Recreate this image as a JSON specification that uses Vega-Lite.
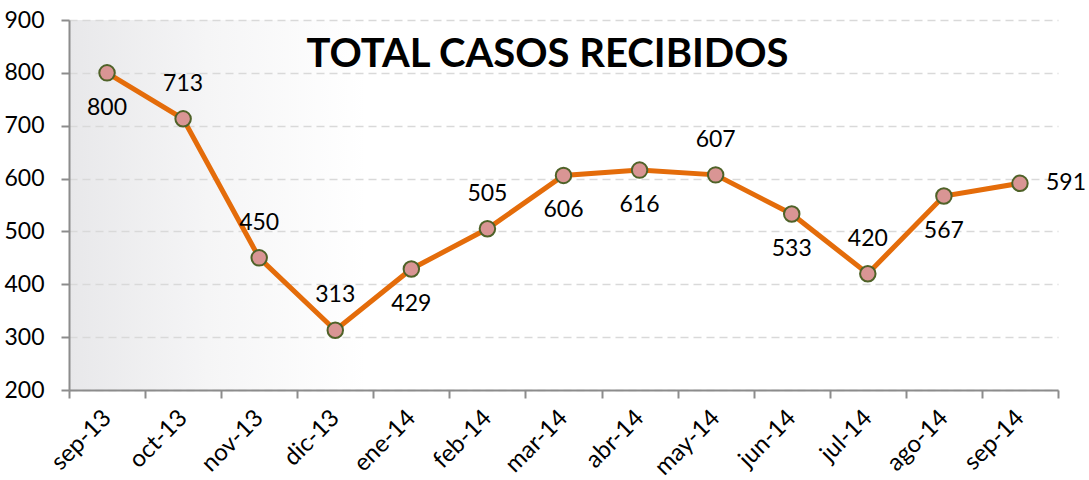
{
  "$schema": "https://vega.github.io/schema/vega-lite/v6.json",
  "width": 989,
  "height": 370,
  "autosize": {"type": "none"},
  "padding": {"left": 69, "top": 20, "right": 31, "bottom": 90},
  "background": "#ffffff",
  "config": {
    "font": "Lato",
    "view": {
      "stroke": null,
      "fill": {
        "gradient": "linear",
        "x1": 0, "y1": 0, "x2": 1, "y2": 0,
        "stops": [
          {"offset": 0, "color": "#e8e8ea"},
          {"offset": 0.14, "color": "#f5f5f6"},
          {"offset": 0.3, "color": "#ffffff"},
          {"offset": 1, "color": "#ffffff"}
        ]
      }
    }
  },
  "datasets": {
    "casos": [
      {"mes": "sep-13", "casos": 800},
      {"mes": "oct-13", "casos": 713},
      {"mes": "nov-13", "casos": 450},
      {"mes": "dic-13", "casos": 313},
      {"mes": "ene-14", "casos": 429},
      {"mes": "feb-14", "casos": 505},
      {"mes": "mar-14", "casos": 606},
      {"mes": "abr-14", "casos": 616},
      {"mes": "may-14", "casos": 607},
      {"mes": "jun-14", "casos": 533},
      {"mes": "jul-14", "casos": 420},
      {"mes": "ago-14", "casos": 567},
      {"mes": "sep-14", "casos": 591}
    ],
    "titulo": [
      {"texto": "TOTAL CASOS RECIBIDOS", "mes": "mar-14", "casos": 834}
    ]
  },
  "data": {"name": "casos"},
  "encoding": {
    "x": {
      "field": "mes",
      "type": "ordinal",
      "sort": null,
      "scale": {"type": "band", "paddingInner": 0, "paddingOuter": 0},
      "axis": {
        "title": null,
        "grid": false,
        "tickBand": "extent",
        "domainColor": "#8c8c8c",
        "domainWidth": 2,
        "tickColor": "#8c8c8c",
        "tickWidth": 2,
        "tickSize": 8,
        "labelAngle": -45,
        "labelAlign": "right",
        "labelBaseline": "middle",
        "labelFontSize": 24,
        "labelColor": "#000000",
        "labelPadding": 16
      }
    },
    "y": {
      "field": "casos",
      "type": "quantitative",
      "scale": {"domain": [200, 900], "nice": false, "zero": false},
      "axis": {
        "title": null,
        "values": [200, 300, 400, 500, 600, 700, 800, 900],
        "grid": true,
        "gridColor": "#d9d9d9",
        "gridDash": [8, 5],
        "gridWidth": 1.5,
        "domainColor": "#8c8c8c",
        "domainWidth": 2,
        "tickColor": "#8c8c8c",
        "tickWidth": 2,
        "tickSize": 8,
        "labelFontSize": 23,
        "labelColor": "#000000",
        "labelPadding": 17
      }
    }
  },
  "layer": [
    {"mark": {"type": "line", "color": "#E46C0A", "strokeWidth": 5}},
    {"mark": {"type": "point", "filled": true, "fill": "#D99594", "stroke": "#4F6228", "strokeWidth": 2, "size": 240, "opacity": 1}},
    {
      "transform": [{"filter": {"field": "mes", "oneOf": ["oct-13", "nov-13", "dic-13", "feb-14", "may-14", "jul-14"]}}],
      "mark": {"type": "text", "dy": -35, "fontSize": 23, "color": "#000000", "baseline": "middle"},
      "encoding": {"text": {"field": "casos"}}
    },
    {
      "transform": [{"filter": {"field": "mes", "oneOf": ["sep-13", "ene-14", "mar-14", "abr-14", "jun-14", "ago-14"]}}],
      "mark": {"type": "text", "dy": 35, "fontSize": 23, "color": "#000000", "baseline": "middle"},
      "encoding": {"text": {"field": "casos"}}
    },
    {
      "transform": [{"filter": {"field": "mes", "equal": "sep-14"}}],
      "mark": {"type": "text", "dx": 26, "align": "left", "fontSize": 23, "color": "#000000", "baseline": "middle"},
      "encoding": {"text": {"field": "casos"}}
    },
    {
      "data": {"name": "titulo"},
      "mark": {"type": "text", "dx": -16, "fontSize": 40, "fontWeight": "bold", "color": "#000000", "baseline": "middle", "align": "center"},
      "encoding": {"text": {"field": "texto"}}
    }
  ]
}
